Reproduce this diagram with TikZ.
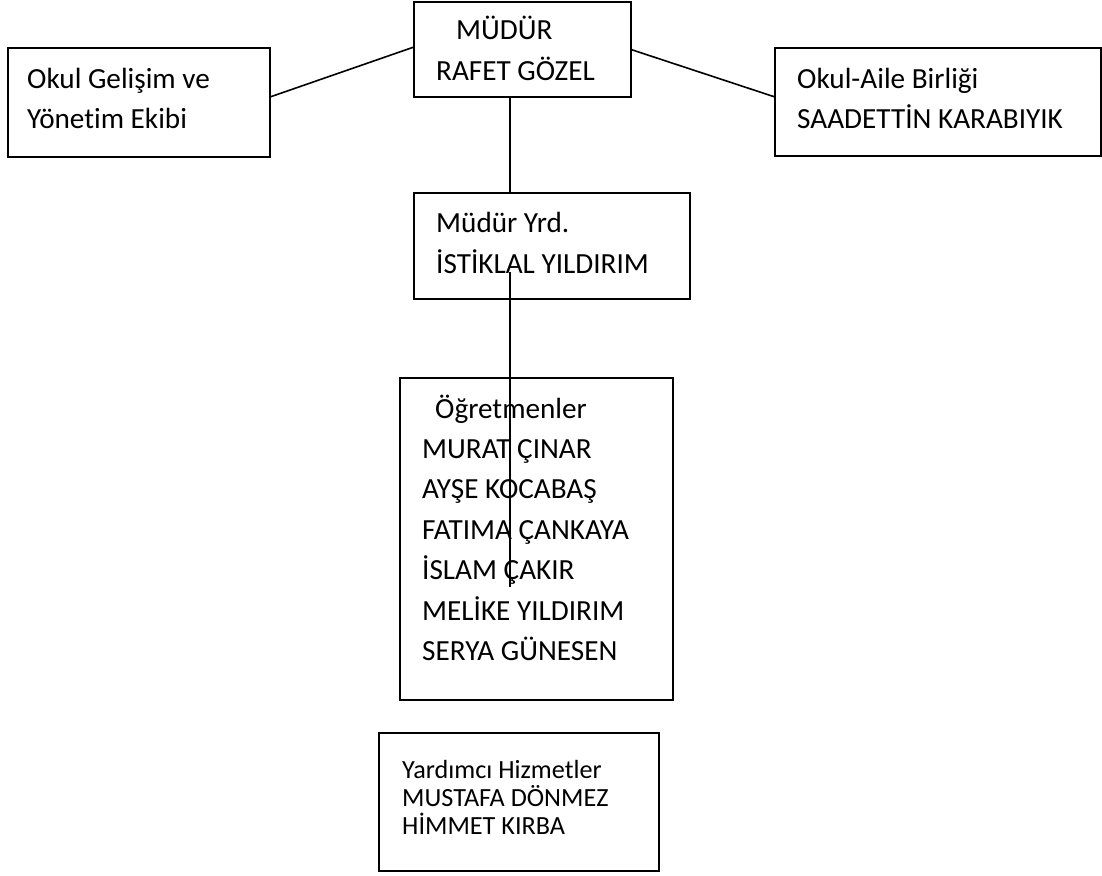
\documentclass[tikz,border=0pt]{standalone}
\usepackage{fontspec}
\setmainfont{Carlito}[Ligatures=NoCommon]
\begin{document}
\begin{tikzpicture}[x=1pt,y=-1pt,
  box/.style={draw,line width=1.6pt,inner sep=0pt,outer sep=0pt,anchor=north west},
  big/.style={font=\fontsize{29.2}{33}\selectfont,anchor=base west,inner sep=0pt},
  small/.style={font=\fontsize{26.2}{29}\selectfont,anchor=base west,inner sep=0pt},
  link/.style={line width=1.6pt}]
\useasboundingbox[fill=white] (0,0) rectangle (1102,875);
% boxes
\node[box,minimum width=217pt,minimum height=95pt] (top) at (414,2) {};
\node[box,minimum width=262pt,minimum height=109pt] (lbox) at (8,48) {};
\node[box,minimum width=326pt,minimum height=108pt] (rbox) at (775,48) {};
\node[box,minimum width=276pt,minimum height=106pt] (myrd) at (414,193) {};
\node[box,minimum width=273pt,minimum height=322pt] (ogr) at (400,378) {};
\node[box,minimum width=280pt,minimum height=138pt] (yard) at (379,733) {};
% texts
\node[big] (t1) at (456,40) {MÜDÜR};
\node[big] (t2) at (436,81) {RAFET GÖZEL};
\node[big] (t3) at (27,88) {Okul Gelişim ve};
\node[big] (t4) at (27,128) {Yönetim Ekibi};
\node[big] (t5) at (797,88) {Okul-Aile Birliği};
\node[big] (t6) at (797,128) {SAADETTİN KARABIYIK};
\node[big] (t7) at (436,232) {Müdür Yrd.};
\node[big] (t8) at (436,273) {İSTİKLAL YILDIRIM};
\node[big] (o0) at (435,418) {Öğretmenler};
\node[big] (o1) at (422,458.5) {MURAT ÇINAR};
\node[big] (o2) at (422,498.5) {AYŞE KOCABAŞ};
\node[big] (o3) at (422,539) {FATIMA ÇANKAYA};
\node[big] (o4) at (422,579.5) {İSLAM ÇAKIR};
\node[big] (o5) at (422,620) {MELİKE YILDIRIM};
\node[big] (o6) at (422,660.5) {SERYA GÜNESEN};
\node[small] (y1) at (402,778.5) {Yardımcı Hizmetler};
\node[small] (y2) at (402,806.5) {MUSTAFA DÖNMEZ};
\node[small] (y3) at (402,834.5) {HİMMET KIRBA};
% connectors
\coordinate (ax) at (510,0);
\coordinate (l1) at (510,272);
\coordinate (l2) at (510,587);
\draw[link] ([yshift=5.5pt]lbox.east) -- ([yshift=2.5pt]top.west);
\draw[link] (top.east) -- ([yshift=5pt]rbox.west);
\draw[link] (top.south -| ax) -- (myrd.north -| ax);
\draw[link] (l1) -- (l2);
\end{tikzpicture}
\end{document}
